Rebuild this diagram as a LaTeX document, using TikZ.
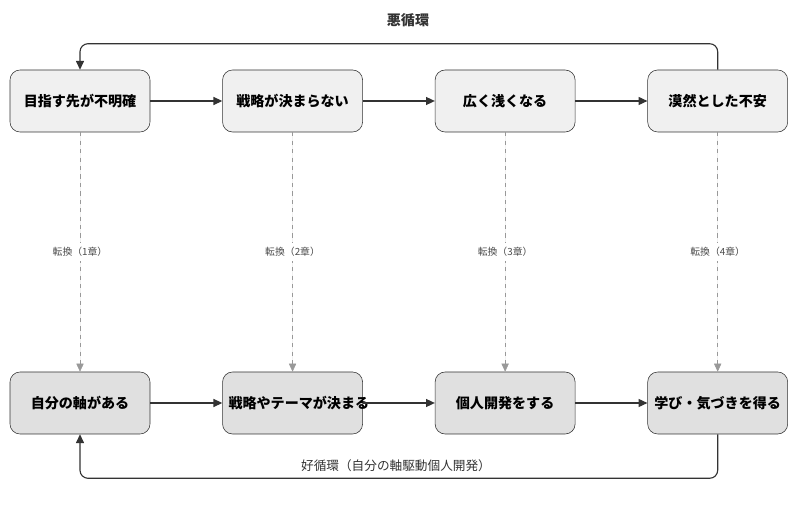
\documentclass[tikz,border=0pt]{standalone}
\usepackage{fontspec}
\setmainfont{Noto Sans CJK JP}
\usetikzlibrary{positioning,arrows.meta}
\definecolor{linegray}{HTML}{333333}
\definecolor{dashgray}{HTML}{999999}
\tikzset{
	stepbad/.style = {rectangle, rounded corners=0.25cm, minimum width=3.5cm, minimum height=1.55cm, text width=3.2cm, align=center, draw=linegray, fill=black!6, font=\bfseries\fontsize{10}{12}\selectfont},
	stepgood/.style = {stepbad, fill=black!12},
	flow/.style = {-{Triangle[length=2.2mm,width=2mm]}, thick, draw=linegray},
	turn/.style = {-{Triangle[length=2mm,width=1.8mm]}, dashed, draw=dashgray, fill=dashgray},
	chap/.style = {fill=white, text=black!70, font=\fontsize{7}{8}\selectfont}
}
\begin{document}
\begin{tikzpicture}  [node distance={1.8cm}]
		\useasboundingbox (0,0) rectangle (20,13.075);
		\node[stepbad] (bad1) at (2,10.55) {目指す先が不明確};
		\node[stepbad, right=of bad1] (bad2) {戦略が決まらない};
		\node[stepbad, right=of bad2] (bad3) {広く浅くなる};
		\node[stepbad, right=of bad3] (bad4) {漠然とした不安};
		
		\node[stepgood] (good1) at (2,3) {自分の軸がある};
		\node[stepgood, right=of good1] (good2) {戦略やテーマが決まる};
		\node[stepgood, right=of good2] (good3) {個人開発をする};
		\node[stepgood, right=of good3] (good4) {学び・気づきを得る};
		
		\node[font=\bfseries\fontsize{10}{12}\selectfont, text=black!80] (badlabel) at (10.2,12.575) {悪循環};
		\node[font=\fontsize{9}{11}\selectfont, text=black!80] (goodlabel) at (9.9,1.425) {好循環（自分の軸駆動個人開発）};
		
		%arrow
		\draw[flow] (bad1) -- (bad2);
		\draw[flow] (bad2) -- (bad3);
		\draw[flow] (bad3) -- (bad4);
		\draw[flow] (good1) -- (good2);
		\draw[flow] (good2) -- (good3);
		\draw[flow] (good3) -- (good4);
		\draw[flow, rounded corners=0.2cm] (bad4.north) -- ++(0,0.65) -| (bad1.north);
		\draw[flow, rounded corners=0.2cm] (good4.south) -- ++(0,-1.1) -| (good1.south);
		
		% chapters
		\draw[turn] (bad1) -- node[chap] {転換（1章）} (good1);
		\draw[turn] (bad2) -- node[chap] {転換（2章）} (good2);
		\draw[turn] (bad3) -- node[chap] {転換（3章）} (good3);
		\draw[turn] (bad4) -- node[chap] {転換（4章）} (good4);
\end{tikzpicture}
\end{document}
